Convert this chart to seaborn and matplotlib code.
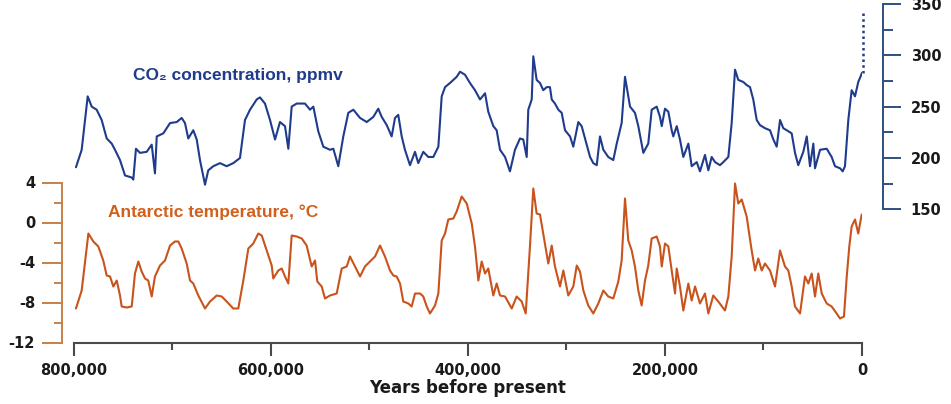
import numpy as np
import pandas as pd
import matplotlib
matplotlib.use("Agg")
import matplotlib.pyplot as plt
from matplotlib.ticker import FixedLocator, FuncFormatter
import seaborn as sns

# EPICA Dome C ice-core record, ages in thousands of years before present
co2_kyr = [798.0, 792.2, 786.1, 782.0, 777.0, 771.9, 766.8, 761.7, 758.4, 753.3,
           748.2, 741.4, 739.8, 737.1, 733.0, 726.2, 721.1, 717.8, 716.0, 709.3,
           702.5, 695.7, 690.7, 687.3, 684.0, 678.9, 675.4, 672.1, 667.0, 663.7,
           658.6, 651.8, 645.0, 638.3, 631.5, 626.4, 621.3, 614.5, 611.2, 606.1,
           601.0, 595.9, 590.9, 585.8, 582.4, 579.0, 573.9, 565.5, 560.4, 557.0,
           552.0, 546.9, 540.1, 536.7, 531.7, 526.6, 521.5, 516.4, 509.6, 502.8,
           496.1, 491.1, 487.6, 482.5, 477.5, 474.1, 470.8, 467.3, 464.0, 458.9,
           453.8, 450.5, 445.4, 440.3, 435.2, 430.1, 426.7, 423.3, 418.3, 411.5,
           408.1, 403.0, 398.0, 392.9, 387.8, 382.7, 379.4, 374.3, 370.9, 367.5,
           362.4, 357.4, 352.3, 347.2, 343.9, 340.4, 338.8, 335.3, 333.7, 330.3,
           326.9, 323.6, 320.1, 316.8, 315.0, 311.7, 308.3, 304.9, 301.5, 296.4,
           293.1, 288.0, 284.6, 279.5, 276.1, 272.8, 269.3, 266.0, 262.6, 257.6,
           252.5, 249.0, 244.0, 240.6, 235.5, 230.5, 227.1, 222.0, 217.0, 213.5,
           208.4, 205.1, 203.3, 200.0, 196.6, 193.2, 191.6, 188.1, 184.8, 181.4,
           176.3, 172.9, 167.8, 164.5, 159.4, 156.0, 152.6, 149.2, 144.2, 140.8,
           135.7, 132.3, 128.9, 125.6, 120.5, 117.1, 113.7, 110.4, 106.9, 103.6,
           98.5, 93.4, 90.0, 86.6, 83.2, 79.9, 76.4, 71.4, 68.0, 64.7,
           59.6, 56.1, 52.8, 49.4, 47.7, 42.6, 35.8, 30.8, 27.4, 22.3,
           19.6, 17.3, 13.9, 10.5, 7.1, 3.8, 1.6, 0.0]
co2_ppmv = [191, 208, 260, 250, 247, 237, 219, 214, 208, 198,
            183, 181, 179, 209, 205, 206, 213, 185, 221, 224,
            234, 235, 239, 234, 219, 227, 218, 198, 174, 188,
            192, 195, 192, 195, 200, 237, 247, 257, 259, 253,
            237, 218, 235, 231, 209, 250, 253, 253, 247, 250,
            226, 211, 208, 209, 192, 221, 244, 247, 239, 235,
            240, 248, 240, 232, 221, 239, 242, 221, 208, 193,
            206, 195, 206, 201, 201, 211, 260, 269, 273, 279,
            284, 281, 273, 266, 257, 263, 245, 231, 227, 208,
            201, 187, 208, 219, 218, 201, 247, 257, 299, 276,
            273, 266, 269, 269, 257, 253, 247, 244, 227, 221,
            211, 235, 231, 213, 201, 195, 193, 221, 208, 201,
            198, 214, 234, 279, 250, 244, 231, 205, 214, 247,
            250, 240, 231, 248, 245, 227, 221, 231, 218, 201,
            214, 192, 196, 187, 203, 188, 201, 196, 193, 196,
            201, 234, 286, 276, 274, 271, 269, 257, 237, 232,
            229, 227, 218, 211, 237, 229, 227, 224, 205, 193,
            206, 221, 192, 214, 190, 208, 209, 201, 192, 190,
            187, 192, 237, 266, 260, 274, 279, 283]

temp_kyr = [798.0, 792.2, 785.4, 780.4, 775.3, 770.3, 766.8, 763.4, 760.1, 756.6,
            753.3, 751.6, 746.5, 741.4, 738.1, 734.7, 731.3, 727.9, 724.6, 721.1,
            717.8, 712.7, 707.6, 702.5, 697.5, 694.1, 690.7, 685.6, 682.2, 678.9,
            673.8, 667.0, 661.9, 655.1, 650.0, 645.0, 638.3, 633.2, 628.1, 623.0,
            618.0, 612.9, 609.4, 604.4, 599.3, 597.7, 592.6, 589.1, 585.8, 582.4,
            579.0, 573.9, 568.8, 563.8, 558.7, 555.3, 553.0, 548.5, 545.2, 540.1,
            533.3, 528.2, 523.1, 519.8, 514.7, 509.6, 504.6, 499.5, 494.4, 489.3,
            484.3, 479.2, 475.8, 472.4, 469.0, 465.7, 460.6, 457.2, 453.8, 448.7,
            445.4, 441.9, 438.6, 433.5, 430.1, 426.7, 423.3, 420.0, 414.9, 411.5,
            406.4, 401.3, 396.2, 392.9, 389.5, 386.1, 382.7, 379.4, 374.3, 370.9,
            367.5, 362.4, 355.6, 350.6, 345.5, 341.4, 337.1, 333.7, 330.3, 326.9,
            323.6, 318.5, 315.0, 311.7, 306.6, 303.2, 298.2, 293.1, 289.6, 286.3,
            282.9, 277.9, 272.8, 267.7, 262.6, 257.6, 252.5, 247.4, 244.0, 240.6,
            237.3, 233.8, 230.5, 227.1, 223.7, 220.3, 217.0, 213.5, 208.4, 205.1,
            203.3, 200.0, 196.6, 193.2, 189.8, 188.1, 184.8, 181.4, 176.3, 172.9,
            169.5, 164.5, 159.4, 156.0, 151.0, 145.9, 139.1, 135.7, 132.3, 128.9,
            125.6, 122.1, 117.1, 112.0, 108.6, 105.3, 101.8, 98.5, 93.4, 88.3,
            83.2, 78.2, 74.8, 71.4, 68.0, 62.9, 57.9, 54.5, 51.1, 47.7,
            44.4, 40.9, 35.8, 30.8, 25.7, 22.3, 18.3, 15.5, 12.9, 10.5,
            7.1, 3.8, 0.3]
temp_c = [-8.6, -6.8, -1.1, -1.9, -2.4, -3.8, -5.3, -5.4, -6.4, -5.8,
          -7.3, -8.4, -8.5, -8.4, -5.1, -3.9, -4.9, -5.6, -5.8, -7.4,
          -5.4, -4.3, -3.8, -2.3, -1.9, -1.9, -2.6, -4.1, -5.8, -6.1,
          -7.3, -8.6, -7.9, -7.3, -7.4, -7.9, -8.6, -8.6, -5.8, -2.6,
          -2.1, -1.1, -1.3, -2.8, -4.3, -5.6, -4.8, -4.6, -5.4, -6.1,
          -1.3, -1.4, -1.6, -2.3, -4.4, -3.8, -5.9, -6.4, -7.6, -7.3,
          -7.1, -4.6, -4.4, -3.4, -4.4, -5.4, -4.4, -3.9, -3.4, -2.3,
          -3.4, -4.8, -5.3, -5.4, -6.1, -7.9, -8.1, -8.4, -7.1, -7.1,
          -7.4, -8.4, -9.1, -8.3, -7.1, -1.8, -1.1, 0.3, 0.4, 1.1,
          2.6, 1.9, -0.1, -2.4, -5.8, -3.9, -5.1, -4.6, -7.3, -6.1,
          -7.3, -7.4, -8.6, -7.4, -7.9, -9.1, -2.4, 3.4, 0.9, 0.8,
          -1.1, -4.1, -2.3, -4.4, -6.4, -4.8, -7.3, -6.4, -4.3, -4.9,
          -6.8, -8.3, -9.1, -8.1, -6.8, -7.4, -7.6, -5.9, -3.8, 2.4,
          -1.8, -2.8, -4.4, -6.8, -8.3, -5.8, -4.3, -1.6, -1.4, -2.4,
          -4.4, -2.1, -2.4, -4.8, -7.1, -4.6, -6.4, -8.8, -6.1, -7.8,
          -6.4, -8.1, -7.1, -9.1, -7.3, -7.9, -8.8, -7.4, -3.4, 3.9,
          1.9, 2.3, 0.6, -2.8, -4.8, -3.6, -4.8, -4.1, -4.8, -6.4,
          -2.8, -4.4, -4.8, -6.4, -8.4, -9.1, -5.4, -6.1, -5.1, -7.4,
          -5.1, -7.1, -8.1, -8.4, -9.1, -9.6, -9.4, -5.4, -2.4, -0.4,
          0.3, -1.1, 0.8]

# industrial-era CO2 rise, drawn dotted above the last ice-core value
modern_kyr = [-1.5, -1.5]
modern_ppmv = [283, 344]

year_ticks = [800000, 600000, 400000, 200000, 0]
year_minor = [700000, 500000, 300000, 100000]
temp_ticks = [-12, -8, -4, 0, 4]
temp_minor = [-10, -6, -2, 2]
co2_ticks = [150, 200, 250, 300, 350]
co2_minor = [175, 225, 275, 325]

co2_title = "CO\u2082 concentration, ppmv"
temp_title = "Antarctic temperature, \u00b0C"
x_title = "Years before present"

CO2_LINE = "#1f3b8c"
CO2_TEXT = "#1f3b8c"
CO2_AXIS = "#2e5080"
T_LINE = "#c9531c"
T_TEXT = "#d0601c"
T_AXIS = "#c58048"
X_AXIS = "#4a4a4a"

co2 = pd.DataFrame({"years": np.array(co2_kyr) * 1000, "ppmv": co2_ppmv})
temp = pd.DataFrame({"years": np.array(temp_kyr) * 1000, "temp": temp_c})

sns.set_theme(style="white")
plt.rcParams["font.family"] = ["DejaVu Sans"]
plt.rcParams["font.weight"] = "bold"
plt.rcParams["axes.unicode_minus"] = False

fig = plt.figure(figsize=(9.51, 4.04), dpi=100)
ax = fig.add_axes([74 / 951, 61.5 / 404, 788 / 951, 342.5 / 404])
ax.patch.set_alpha(0)

sns.lineplot(data=temp, x="years", y="temp", ax=ax, color=T_LINE, lw=1.5,
             estimator=None, sort=False)
ax2 = ax.twinx()
sns.lineplot(data=co2, x="years", y="ppmv", ax=ax2, color=CO2_LINE, lw=1.5,
             estimator=None, sort=False)
ax2.plot(np.array(modern_kyr) * 1000, modern_ppmv, color=CO2_LINE, lw=1.8,
         linestyle=(0, (1, 1.3)), clip_on=False)

ax.set_xlim(800000, 0)
ax.set_ylim(-12, 22.25)
ax2.set_ylim(20.4, 353.8)

for a in (ax, ax2):
    a.set_xlabel("")
    a.set_ylabel("")
    a.grid(False)
    a.spines["top"].set_visible(False)

# temperature axis (left)
ax.spines["right"].set_visible(False)
ax.spines["left"].set_position(("outward", 8.6))
ax.spines["left"].set_bounds(-12, 4)
ax.spines["left"].set_color(T_AXIS)
ax.spines["left"].set_linewidth(1.4)
ax.yaxis.set_major_locator(FixedLocator(temp_ticks))
ax.yaxis.set_minor_locator(FixedLocator(temp_minor))
ax.tick_params(axis="y", which="major", left=True, length=14.4, width=1.4,
               color=T_AXIS, pad=5, labelsize=10.5, labelcolor="#1a1a1a")
ax.tick_params(axis="y", which="minor", left=True, length=6, width=1.4,
               color=T_AXIS)

# time axis (bottom)
ax.spines["bottom"].set_color(X_AXIS)
ax.spines["bottom"].set_linewidth(1.5)
ax.xaxis.set_major_locator(FixedLocator(year_ticks))
ax.xaxis.set_minor_locator(FixedLocator(year_minor))
ax.xaxis.set_major_formatter(FuncFormatter(lambda v, p: f"{int(v):,}"))
ax.tick_params(axis="x", which="major", bottom=True, length=9.5, width=1.5,
               color=X_AXIS, pad=5, labelsize=10.5, labelcolor="#1a1a1a")
ax.tick_params(axis="x", which="minor", bottom=True, length=5, width=1.5,
               color=X_AXIS)
ax.set_xlabel(x_title, fontsize=12, fontweight="bold", color="#1a1a1a",
              labelpad=1)

# CO2 axis (right)
ax2.spines["left"].set_visible(False)
ax2.spines["bottom"].set_visible(False)
ax2.spines["right"].set_position(("outward", 15))
ax2.spines["right"].set_bounds(150, 350)
ax2.spines["right"].set_color(CO2_AXIS)
ax2.spines["right"].set_linewidth(1.4)
ax2.yaxis.set_major_locator(FixedLocator(co2_ticks))
ax2.yaxis.set_minor_locator(FixedLocator(co2_minor))
ax2.tick_params(axis="y", which="major", right=True, length=13, width=1.4,
                color=CO2_AXIS, pad=7, labelsize=10.5, labelcolor="#1a1a1a")
ax2.tick_params(axis="y", which="minor", right=True, length=7.5, width=1.4,
                color=CO2_AXIS)

for lab in ax.get_xticklabels() + ax.get_yticklabels() + ax2.get_yticklabels():
    lab.set_fontweight("bold")

title_font = ["Liberation Sans", "DejaVu Sans"]
ax2.text(740000, 280, co2_title, color=CO2_TEXT, fontsize=12.5,
         fontweight="bold", family=title_font, ha="left", va="center")
ax.text(765500, 1.05, temp_title, color=T_TEXT, fontsize=12.5,
        fontweight="bold", family=title_font, ha="left", va="center")

fig.savefig("out.png", dpi=100)
